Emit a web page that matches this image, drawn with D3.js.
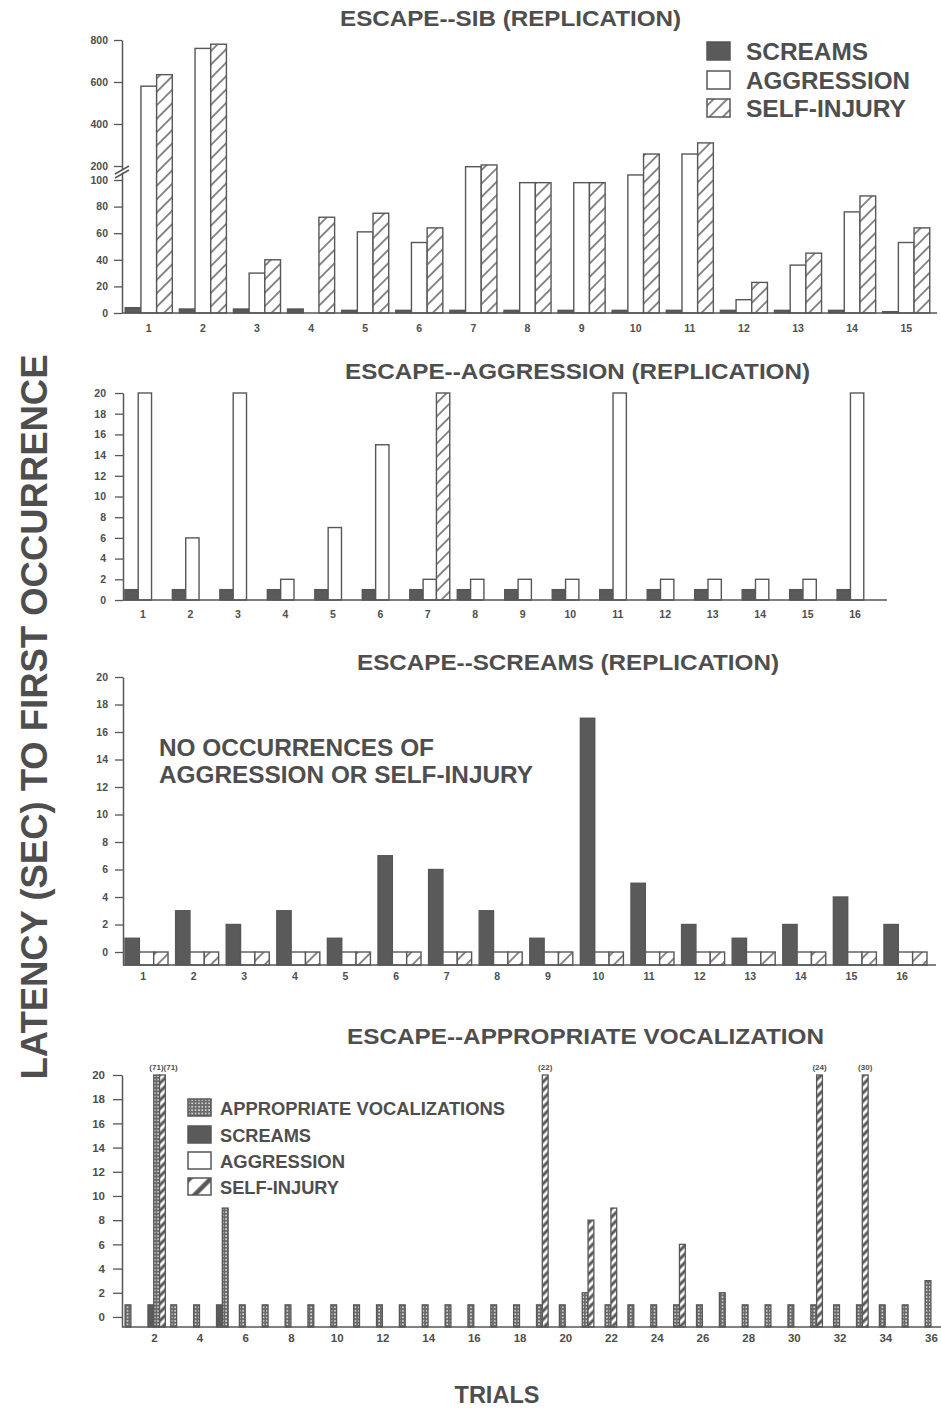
<!DOCTYPE html>
<html><head><meta charset="utf-8">
<script src="https://cdn.jsdelivr.net/npm/d3@7"></script>
<style>body{margin:0;background:#fff}</style>
</head><body>
<svg id="c" width="941" height="1408"></svg>
<script>
// ---------------- DATA ----------------
const panelTitles = ["ESCAPE--SIB (REPLICATION)", "ESCAPE--AGGRESSION (REPLICATION)", "ESCAPE--SCREAMS (REPLICATION)", "ESCAPE--APPROPRIATE VOCALIZATION"];
const yAxisTitle = "LATENCY (SEC) TO FIRST OCCURRENCE";
const xAxisTitle = "TRIALS";
const seriesNames = ["SCREAMS", "AGGRESSION", "SELF-INJURY"];
const legend4Names = ["APPROPRIATE VOCALIZATIONS", "SCREAMS", "AGGRESSION", "SELF-INJURY"];
const noteLines = ["NO OCCURRENCES OF", "AGGRESSION OR SELF-INJURY"];

// Panel 1: Escape--SIB
const sibTrials = [1,2,3,4,5,6,7,8,9,10,11,12,13,14,15];
const sibScreams    = [4,3,3,3,2,2,2,2,2,2,2,2,2,2,1];
const sibAggression = [580,760,30,0,61,53,195,98,98,136,257,10,36,76,53];
const sibSelfInjury = [635,780,40,72,75,64,205,98,98,257,310,23,45,88,64];
const sibYTicks = [0,20,40,60,80,100,200,400,600,800];

// Panel 2: Escape--Aggression
const aggTrials = [1,2,3,4,5,6,7,8,9,10,11,12,13,14,15,16];
const aggScreams    = [1,1,1,1,1,1,1,1,1,1,1,1,1,1,1,1];
const aggAggression = [20,6,20,2,7,15,2,2,2,2,20,2,2,2,2,20];
const aggSelfInjury = [0,0,0,0,0,0,20,0,0,0,0,0,0,0,0,0];
const yTicks20 = [0,2,4,6,8,10,12,14,16,18,20];

// Panel 3: Escape--Screams
const scrTrials = [1,2,3,4,5,6,7,8,9,10,11,12,13,14,15,16];
const scrScreams    = [1,3,2,3,1,7,6,3,1,17,5,2,1,2,4,2];
const scrAggression = [0,0,0,0,0,0,0,0,0,0,0,0,0,0,0,0];
const scrSelfInjury = [0,0,0,0,0,0,0,0,0,0,0,0,0,0,0,0];

// Panel 4: Escape--Appropriate vocalization
const avTrials = [1,2,3,4,5,6,7,8,9,10,11,12,13,14,15,16,17,18,19,20,21,22,23,24,25,26,27,28,29,30,31,32,33,34,35,36];
const avVocal      = [1,71,1,1,9,1,1,1,1,1,1,1,1,1,1,1,1,1,1,1,2,1,1,1,1,1,2,1,1,1,1,1,1,1,1,3];
const avScreams    = [0,1,0,0,1,0,0,0,0,0,0,0,0,0,0,0,0,0,0,0,0,0,0,0,0,0,0,0,0,0,0,0,0,0,0,0];
const avAggression = [0,0,0,0,0,0,0,0,0,0,0,0,0,0,0,0,0,0,0,0,0,0,0,0,0,0,0,0,0,0,0,0,0,0,0,0];
const avSelfInjury = [0,71,0,0,0,0,0,0,0,0,0,0,0,0,0,0,0,0,22,0,8,9,0,0,6,0,0,0,0,0,24,0,30,0,0,0];
const avXTicks = [2,4,6,8,10,12,14,16,18,20,22,24,26,28,30,32,34,36];
const avCap = 20;

// ---------------- STYLE ----------------
const INK = "#575757", TXT = "#4e4e4e", DARK = "#5a5a5a";
const FONT = "'Liberation Sans', Arial, Helvetica, sans-serif";
const svg = d3.select("#c");
svg.append("rect").attr("width", 941).attr("height", 1408).attr("fill", "#fff");

const defs = svg.append("defs");
function hatch(id, period, sw) {
  const p = defs.append("pattern").attr("id", id).attr("patternUnits", "userSpaceOnUse")
    .attr("width", period).attr("height", period).attr("patternTransform", "rotate(45)");
  p.append("rect").attr("width", period).attr("height", period).attr("fill", "#fff");
  p.append("line").attr("x1", period / 2).attr("x2", period / 2).attr("y1", -1).attr("y2", period + 1)
    .attr("stroke", INK).attr("stroke-width", sw);
}
hatch("hatch", 9.5, 1.4);
hatch("hatch4", 6, 3);
hatch("hatchL", 15, 4.5);
{
  const p = defs.append("pattern").attr("id", "stipple").attr("patternUnits", "userSpaceOnUse")
    .attr("width", 3.4).attr("height", 3.4);
  p.append("rect").attr("width", 3.4).attr("height", 3.4).attr("fill", "#6a6a6a");
  p.append("rect").attr("x", 1).attr("y", 1).attr("width", 1.5).attr("height", 1.5).attr("fill", "#e8e8e8");
}
const fills = {"SCREAMS": DARK, "AGGRESSION": "#fff", "SELF-INJURY": "url(#hatch)"};

function styleAxis(g, fs) {
  g.selectAll("text").attr("font-family", FONT).attr("font-weight", "bold").attr("font-size", fs).attr("fill", TXT);
  g.selectAll("line").attr("stroke", INK).attr("stroke-width", 1.3);
  g.select(".domain").attr("stroke", INK).attr("stroke-width", 1.5);
}
function textFit(x, y, str, fs, width, anchor) {
  return svg.append("text").attr("x", x).attr("y", y).text(str)
    .attr("font-family", FONT).attr("font-weight", "bold").attr("font-size", fs).attr("fill", TXT)
    .attr("text-anchor", anchor || "start").attr("textLength", width).attr("lengthAdjust", "spacingAndGlyphs");
}

// ---------------- GROUPED PANELS ----------------
function groupedPanel(cfg, trials, values, yTicks) {
  const x = d3.scaleBand().domain(trials).range(cfg.xRange).paddingInner(cfg.padIn).paddingOuter(cfg.padOut);
  const sub = d3.scaleBand().domain(seriesNames).range([0, x.bandwidth()]);
  const y = d3.scaleLinear().domain(cfg.yDomain).range(cfg.yRange);
  const base = y(cfg.yDomain[0]);
  const g = svg.append("g");
  seriesNames.forEach((name, i) => {
    const data = trials.map((t, j) => ({t, v: values[i][j]})).filter(d => cfg.drawZero || d.v > 0);
    g.selectAll(null).data(data).join("rect")
      .attr("x", d => x(d.t) + sub(name)).attr("width", sub.bandwidth())
      .attr("y", d => y(d.v)).attr("height", d => base - y(d.v))
      .attr("fill", fills[name]).attr("stroke", INK).attr("stroke-width", 1.4);
  });
  // x axis line + labels
  svg.append("line").attr("x1", cfg.xRange[0]).attr("x2", cfg.axisEnd).attr("y1", base).attr("y2", base)
    .attr("stroke", INK).attr("stroke-width", 1.6);
  const ax = svg.append("g").attr("transform", `translate(${(cfg.labelFrac - 0.5) * x.bandwidth()},${base})`)
    .call(d3.axisBottom(x).tickSize(0).tickPadding(cfg.xPad));
  ax.select(".domain").remove();
  styleAxis(ax, 10.5);
  const ay = svg.append("g").attr("transform", `translate(${cfg.xRange[0]},0)`)
    .call(d3.axisLeft(y).tickValues(yTicks).tickSize(8).tickSizeOuter(0).tickPadding(cfg.yPad));
  styleAxis(ay, 10.5);
  return {x, y, base};
}

// Panel 1
const p1 = groupedPanel({xRange: [122, 933], padIn: 0.13, padOut: 0.06, axisEnd: 937,
  yDomain: [0, 100, 200, 800], yRange: [313, 180, 166, 40], drawZero: false, labelFrac: 0.5, xPad: 12, yPad: 6},
  sibTrials, [sibScreams, sibAggression, sibSelfInjury], sibYTicks);
{ // axis break mark
  const my = (p1.y(100) + p1.y(200)) / 2, ax = 122;
  svg.append("polygon").attr("points", `${ax-5},${my+3} ${ax+5},${my-3} ${ax+5},${my-6} ${ax-5},${my}`).attr("fill", "#fff");
  [0, 4].forEach(o => svg.append("line").attr("x1", ax - 7).attr("y1", my + 3 - o + 2).attr("x2", ax + 7).attr("y2", my - 5 - o + 2)
    .attr("stroke", INK).attr("stroke-width", 1.6));
}
textFit(340, 26, panelTitles[0], 22, 341);
// legend 1
const leg1Top = [42, 71, 99], leg1W = [122, 164, 160];
seriesNames.forEach((n, i) => {
  svg.append("rect").attr("x", 707).attr("y", leg1Top[i]).attr("width", 23).attr("height", 18)
    .attr("fill", fills[n]).attr("stroke", INK).attr("stroke-width", 1.5);
  textFit(746, leg1Top[i] + 18, n, 24, leg1W[i]);
});

// Panel 2
groupedPanel({xRange: [123, 879], padIn: 0.158, padOut: 0.04, axisEnd: 887,
  yDomain: [0, 20], yRange: [600, 393], drawZero: false, labelFrac: 0.45, xPad: 11, yPad: 9},
  aggTrials, [aggScreams, aggAggression, aggSelfInjury], yTicks20);
textFit(345, 379, panelTitles[1], 22, 465);

// Panel 3
groupedPanel({xRange: [123, 929], padIn: 0.15, padOut: 0.04, axisEnd: 936,
  yDomain: [-0.945, 20], yRange: [965, 677], drawZero: true, labelFrac: 0.42, xPad: 8, yPad: 7},
  scrTrials, [scrScreams, scrAggression, scrSelfInjury], yTicks20);
textFit(357, 670, panelTitles[2], 22, 422);
textFit(159, 756, noteLines[0], 23, 275);
textFit(159, 783, noteLines[1], 23, 374);

// ---------------- PANEL 4 ----------------
{
  const x = d3.scaleLinear().domain([1, 36]).range([128, 928]);
  const y = d3.scaleLinear().domain([-0.83, 20]).range([1327, 1075]);
  const base = y(-0.83), bw = 5.8;
  const order = [
    {key: "SCREAMS", vals: avScreams, fill: DARK},
    {key: "AV", vals: avVocal, fill: "url(#stipple)"},
    {key: "AGGRESSION", vals: avAggression, fill: "#fff"},
    {key: "SELF-INJURY", vals: avSelfInjury, fill: "url(#hatch4)"}
  ];
  const bars = [], notes = [];
  avTrials.forEach((t, j) => {
    const present = order.filter(s => s.vals[j] > 0);
    const capped = [];
    present.forEach((s, k) => {
      const v = s.vals[j];
      const bx = x(t) - bw / 2 + k * bw;
      bars.push({x: bx, v: Math.min(v, avCap), fill: s.fill});
      if (v > avCap) capped.push({cx: bx + bw / 2, v});
    });
    if (capped.length) notes.push({cx: d3.mean(capped, c => c.cx) + (capped.length > 1 ? 4 : 0), txt: capped.map(c => `(${c.v})`).join("")});
  });
  svg.append("g").selectAll("rect").data(bars).join("rect")
    .attr("x", d => d.x).attr("width", bw).attr("y", d => y(d.v)).attr("height", d => base - y(d.v))
    .attr("fill", d => d.fill).attr("stroke", INK).attr("stroke-width", 1.3);
  svg.append("g").selectAll("text").data(notes).join("text")
    .attr("x", d => d.cx).attr("y", y(avCap) - 5).attr("text-anchor", "middle").text(d => d.txt)
    .attr("font-family", FONT).attr("font-weight", "bold").attr("font-size", 8).attr("fill", TXT);
  svg.append("line").attr("x1", 122).attr("x2", 941).attr("y1", base).attr("y2", base)
    .attr("stroke", INK).attr("stroke-width", 1.6);
  const ax = svg.append("g").attr("transform", `translate(3,${base})`)
    .call(d3.axisBottom(x).tickValues(avXTicks).tickSize(0).tickPadding(7));
  ax.select(".domain").remove();
  styleAxis(ax, 11.5);
  const ay = svg.append("g").attr("transform", "translate(122,0)")
    .call(d3.axisLeft(y).tickValues(yTicks20).tickSize(9).tickSizeOuter(0).tickPadding(8));
  styleAxis(ay, 11.5);
  textFit(347, 1044, panelTitles[3], 22, 477);
  // legend 4
  const l4fills = ["url(#stipple)", DARK, "#fff", "url(#hatchL)"];
  const l4Top = [1099, 1126, 1152, 1178], l4W = [285, 91, 125, 119];
  legend4Names.forEach((n, i) => {
    svg.append("rect").attr("x", 188).attr("y", l4Top[i]).attr("width", 23).attr("height", 17)
      .attr("fill", l4fills[i]).attr("stroke", INK).attr("stroke-width", 1.5);
    textFit(220, l4Top[i] + 15.5, n, 18, l4W[i]);
  });
}

// ---------------- AXIS TITLES ----------------
svg.append("text").attr("transform", "translate(47,717) rotate(-90)").attr("text-anchor", "middle")
  .text(yAxisTitle).attr("font-family", FONT).attr("font-weight", "bold").attr("font-size", 36)
  .attr("fill", TXT).attr("textLength", 725).attr("lengthAdjust", "spacingAndGlyphs");
textFit(497, 1403, xAxisTitle, 23, 85, "middle");
</script>
</body></html>
